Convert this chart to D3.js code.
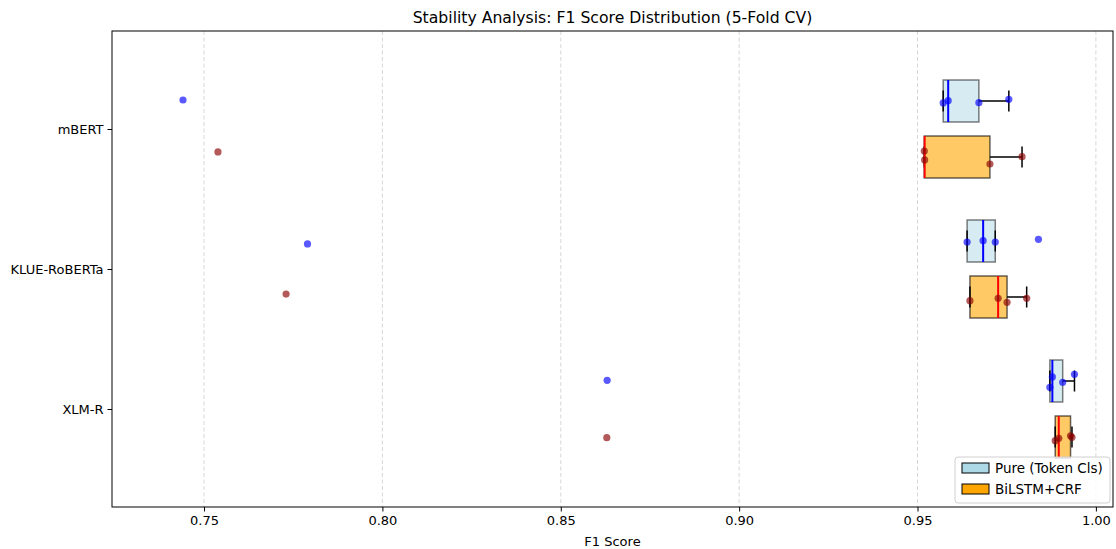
<!DOCTYPE html>
<html>
<head>
<meta charset="utf-8">
<script src="https://cdn.jsdelivr.net/npm/d3@7"></script>
<style>
  body { margin: 0; background: #fff; }
  svg { font-family: "DejaVu Sans", sans-serif; }
</style>
</head>
<body>
<svg width="1116" height="549"></svg>
<script>
// models on the y axis, top to bottom
var models = ["mBERT", "KLUE-RoBERTa", "XLM-R"];
var seriesNames = ["Pure (Token Cls)", "BiLSTM+CRF"];

// 5-fold F1 scores per model
var pureScores = [
    [0.7441, 0.9572, 0.9586, 0.9672, 0.9756],
    [0.7790, 0.9639, 0.9684, 0.9718, 0.9839],
    [0.8630, 0.9871, 0.9878, 0.9907, 0.9940]
];
var crfScores = [
    [0.7539, 0.9519, 0.9520, 0.9703, 0.9793],
    [0.7730, 0.9647, 0.9726, 0.9751, 0.9806],
    [0.8629, 0.9886, 0.9896, 0.9929, 0.9933]
];
// strip jitter, in category units
var pureJitter = [
    [-0.007, 0.014, -0.002, 0.012, -0.012],
    [0.021, 0.007, -0.002, 0.007, -0.012],
    [-0.005, 0.045, -0.029, 0.009, -0.048]
];
var crfJitter = [
    [-0.036, -0.043, 0.021, 0.05, -0.002],
    [-0.021, 0.026, 0.009, 0.038, 0.009],
    [0.005, 0.026, 0.009, -0.009, 0.002]
];
var xTicks = [0.75, 0.80, 0.85, 0.90, 0.95, 1.00];

var svg = d3.select("svg"),
    margin = {top: 31, right: 3, bottom: 42, left: 112},
    width = svg.attr("width") - margin.left - margin.right,
    height = svg.attr("height") - margin.top - margin.bottom;

var x = d3.scaleLinear().domain([0.7242, 1.0048]).range([0, width]);
var y = d3.scaleLinear().domain([-0.7, 2.7]).range([0, height]);

var g = svg.append("g")
    .attr("transform", "translate(" + margin.left + "," + margin.top + ")");

// grid
g.append("g").selectAll("line").data(xTicks).enter().append("line")
    .attr("x1", function(d) { return x(d); })
    .attr("x2", function(d) { return x(d); })
    .attr("y1", 0).attr("y2", height)
    .attr("stroke", "#b0b0b0").attr("stroke-opacity", 0.5)
    .attr("stroke-dasharray", "4,2.5");

var series = [
    {name: seriesNames[0], scores: pureScores, jitter: pureJitter, offset: -0.2,
     fill: "#ADD8E6", fillOp: 0.5, edge: "rgba(0,0,0,0.5)", median: "blue", dot: "blue"},
    {name: seriesNames[1], scores: crfScores, jitter: crfJitter, offset: 0.2,
     fill: "#FFA500", fillOp: 0.6, edge: "rgba(0,0,0,0.6)", median: "red", dot: "darkred"}
];

var boxH = y(0.3) - y(0);

function stats(vals) {
    var s = vals.slice().sort(d3.ascending);
    var q1 = d3.quantile(s, 0.25), med = d3.quantile(s, 0.5), q3 = d3.quantile(s, 0.75);
    var iqr = q3 - q1;
    var lo = d3.min(s.filter(function(v) { return v >= q1 - 1.5 * iqr; }));
    var hi = d3.max(s.filter(function(v) { return v <= q3 + 1.5 * iqr; }));
    return {q1: q1, med: med, q3: q3, lo: lo, hi: hi};
}

series.forEach(function(se) {
    var boxes = g.append("g").selectAll("g").data(models).enter().append("g");
    boxes.each(function(m, i) {
        var st = stats(se.scores[i]);
        var cy = y(i + se.offset);
        var sel = d3.select(this);
        sel.append("rect")
            .attr("x", x(st.q1)).attr("width", x(st.q3) - x(st.q1))
            .attr("y", cy - boxH / 2).attr("height", boxH)
            .attr("fill", se.fill).attr("fill-opacity", se.fillOp)
            .attr("stroke", se.edge).attr("stroke-width", 1.5);
        [[st.q1, st.lo], [st.q3, st.hi]].forEach(function(w) {
            sel.append("line")
                .attr("x1", x(w[0])).attr("x2", x(w[1]))
                .attr("y1", cy).attr("y2", cy)
                .attr("stroke", "black").attr("stroke-width", 1.5);
            sel.append("line")
                .attr("x1", x(w[1])).attr("x2", x(w[1]))
                .attr("y1", cy - boxH / 4).attr("y2", cy + boxH / 4)
                .attr("stroke", "black").attr("stroke-width", 1.5);
        });
        sel.append("line")
            .attr("x1", x(st.med)).attr("x2", x(st.med))
            .attr("y1", cy - boxH / 2).attr("y2", cy + boxH / 2)
            .attr("stroke", se.median).attr("stroke-width", 2);
    });
});

series.forEach(function(se) {
    var pts = [];
    models.forEach(function(m, i) {
        se.scores[i].forEach(function(v, j) {
            pts.push({v: v, pos: i + se.offset + se.jitter[i][j]});
        });
    });
    g.append("g").selectAll("circle").data(pts).enter().append("circle")
        .attr("cx", function(d) { return x(d.v); })
        .attr("cy", function(d) { return y(d.pos); })
        .attr("r", 3.6)
        .attr("fill", se.dot).attr("fill-opacity", 0.65);
});

// axes
var xAxis = g.append("g")
    .attr("transform", "translate(0," + height + ")")
    .call(d3.axisBottom(x).tickValues(xTicks).tickFormat(d3.format(".2f")).tickSize(4.5).tickPadding(4));
var yAxis = g.append("g")
    .call(d3.axisLeft(d3.scaleOrdinal().domain(models).range(models.map(function(m, i) { return y(i); })))
        .tickSize(4.5).tickPadding(4));
[xAxis, yAxis].forEach(function(a) {
    a.select(".domain").remove();
    a.selectAll("text").attr("font-size", 13).attr("fill", "#000").attr("font-family", "DejaVu Sans");
    a.selectAll("line").attr("stroke", "#000").attr("stroke-width", 1);
});

g.append("rect")
    .attr("width", width).attr("height", height)
    .attr("fill", "none").attr("stroke", "#000").attr("stroke-width", 1);

var title = svg.append("text")
    .attr("x", margin.left + width / 2).attr("y", 23)
    .attr("text-anchor", "middle").attr("font-size", 16)
    .text("Stability Analysis: F1 Score Distribution (5-Fold CV)");
// fit the title to the ~400px span it has in the original
var tw = title.node().getComputedTextLength();
title.attr("font-size", 16 * 400 / tw);

svg.append("text")
    .attr("x", margin.left + width / 2).attr("y", 546)
    .attr("text-anchor", "middle").attr("font-size", 13)
    .text("F1 Score");

// legend
var lg = svg.append("g").attr("transform", "translate(955,457)");
lg.append("rect")
    .attr("width", 155).attr("height", 46).attr("rx", 3)
    .attr("fill", "#fff").attr("fill-opacity", 0.8)
    .attr("stroke", "#d0d0d0");
series.forEach(function(se, i) {
    lg.append("rect")
        .attr("x", 7).attr("y", 6 + i * 21).attr("width", 27).attr("height", 10)
        .attr("fill", se.fill).attr("stroke", "#000");
    lg.append("text")
        .attr("x", 40).attr("y", 16 + i * 21)
        .attr("font-size", 13.5)
        .text(se.name);
});
</script>
</body>
</html>
